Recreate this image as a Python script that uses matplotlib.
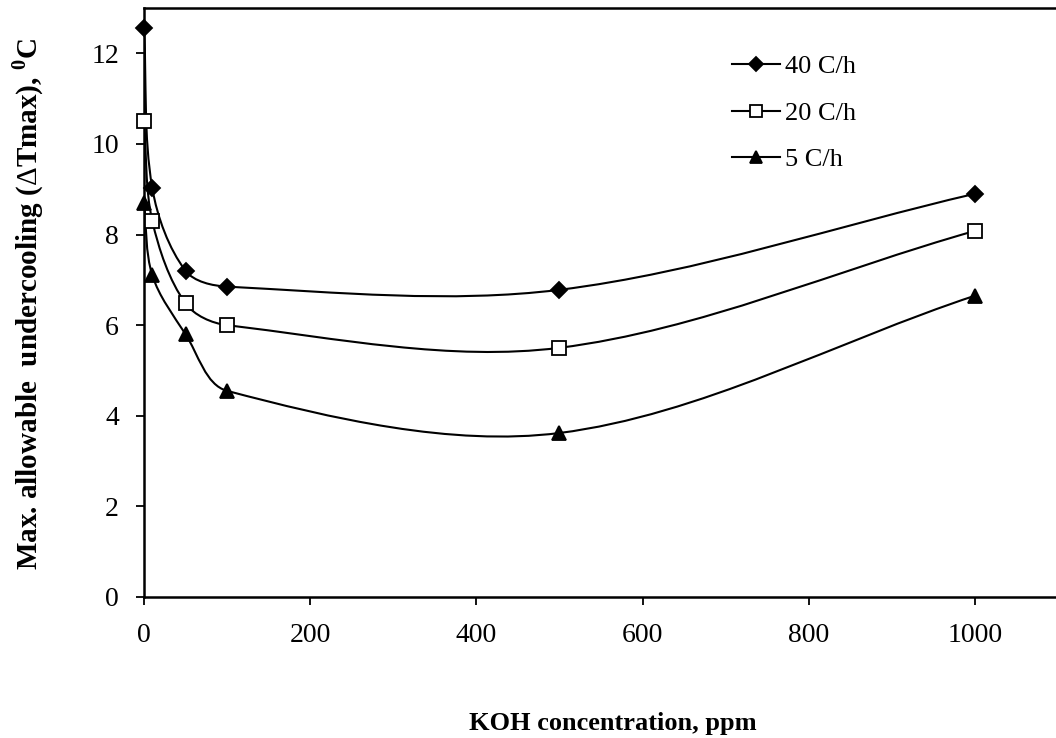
import numpy as np
import matplotlib
matplotlib.use("Agg")
from matplotlib import pyplot as plt
from matplotlib.path import Path
from matplotlib.patches import PathPatch
from matplotlib.lines import Line2D

plt.rcParams['font.family'] = ['Liberation Serif', 'DejaVu Serif']
plt.rcParams['mathtext.fontset'] = 'custom'
plt.rcParams['mathtext.rm'] = 'Liberation Serif'
plt.rcParams['mathtext.bf'] = 'Liberation Serif:bold'

# KOH concentration, ppm
koh = [0, 10, 50, 100, 500, 1000]
# max allowable undercooling for each cooling rate
dt_40 = [12.55, 9.02, 7.2, 6.85, 6.78, 8.9]
dt_20 = [10.5, 8.3, 6.48, 6.0, 5.5, 8.08]
dt_5 = [8.7, 7.1, 5.8, 4.55, 3.62, 6.65]
labels = ['40 C/h', '20 C/h', '5 C/h']
markers = ['D', 's', '^']
facecols = ['black', 'white', 'black']
msizes = [8.5, 9.5, 10]
leg_sizes = [7.5, 8, 8.5]

XMAX, YMAX = 1100, 13
W_PX, H_PX = 914, 589
sx, sy = W_PX / XMAX, H_PX / YMAX   # px per data unit, smoothing is done in screen space


def smooth_path(x, y):
    # chord-length bezier smoothing, roughly like a spreadsheet "smoothed line"
    p = np.column_stack([np.asarray(x) * sx, np.asarray(y) * sy]).astype(float)
    n = len(p)
    d = np.hypot(*np.diff(p, axis=0).T)
    m = np.zeros_like(p)
    m[0] = (p[1] - p[0]) / d[0]
    m[-1] = (p[-1] - p[-2]) / d[-1]
    for i in range(1, n - 1):
        m[i] = (p[i + 1] - p[i - 1]) / (d[i - 1] + d[i])
    verts = [p[0]]
    codes = [Path.MOVETO]
    for i in range(n - 1):
        c1 = p[i] + m[i] * d[i] / 3.0
        c2 = p[i + 1] - m[i + 1] * d[i] / 3.0
        verts += [c1, c2, p[i + 1]]
        codes += [Path.CURVE4] * 3
    verts = np.array(verts) / [sx, sy]
    return Path(verts, codes)


fig = plt.figure(figsize=(10.56, 7.38), dpi=100)
ax = fig.add_axes([144 / 1056, 1 - 597 / 738, W_PX / 1056, H_PX / 738])

handles = []
for ys, lab, m, fc, ms, lms in zip([dt_40, dt_20, dt_5], labels, markers, facecols, msizes, leg_sizes):
    ax.add_patch(PathPatch(smooth_path(koh, ys), fill=False, lw=1.5, ec='black', zorder=2))
    ax.plot(koh, ys, linestyle='none', marker=m, ms=ms, mfc=fc, mec='black', mew=1.3, zorder=3,
            clip_on=False)
    handles.append(Line2D([], [], color='black', lw=1.5, marker=m, ms=lms, mfc=fc, mec='black', mew=1.3))

ax.set_xlim(0, XMAX)
ax.set_ylim(0, YMAX)
ax.set_xticks([0, 200, 400, 600, 800, 1000])
ax.set_yticks([0, 2, 4, 6, 8, 10, 12])
ax.tick_params(direction='out', length=6, width=1.3, labelsize=20)
ax.tick_params(axis='x', pad=13)
ax.tick_params(axis='y', pad=12)
for s in ax.spines.values():
    s.set_linewidth(1.8)

ax.legend(handles, labels, loc='upper left', bbox_to_anchor=(732 / 1056, 1 - 55 / 738),
          bbox_transform=fig.transFigure, frameon=False, fontsize=19, handlelength=1.82,
          handletextpad=0.2, labelspacing=0.87, borderpad=0, borderaxespad=0)

fig.text(613 / 1056, 1 - 730 / 738, 'KOH concentration, ppm', ha='center', va='baseline',
         fontsize=19, fontweight='bold')
fig.text(28 / 1056, 1 - 304 / 738, r'Max. allowable  undercooling ($\Delta$Tmax), $^{\mathbf{0}}$C',
         ha='center', va='center', rotation=90, fontsize=21, fontweight='bold')

fig.savefig('out.png', dpi=100)
